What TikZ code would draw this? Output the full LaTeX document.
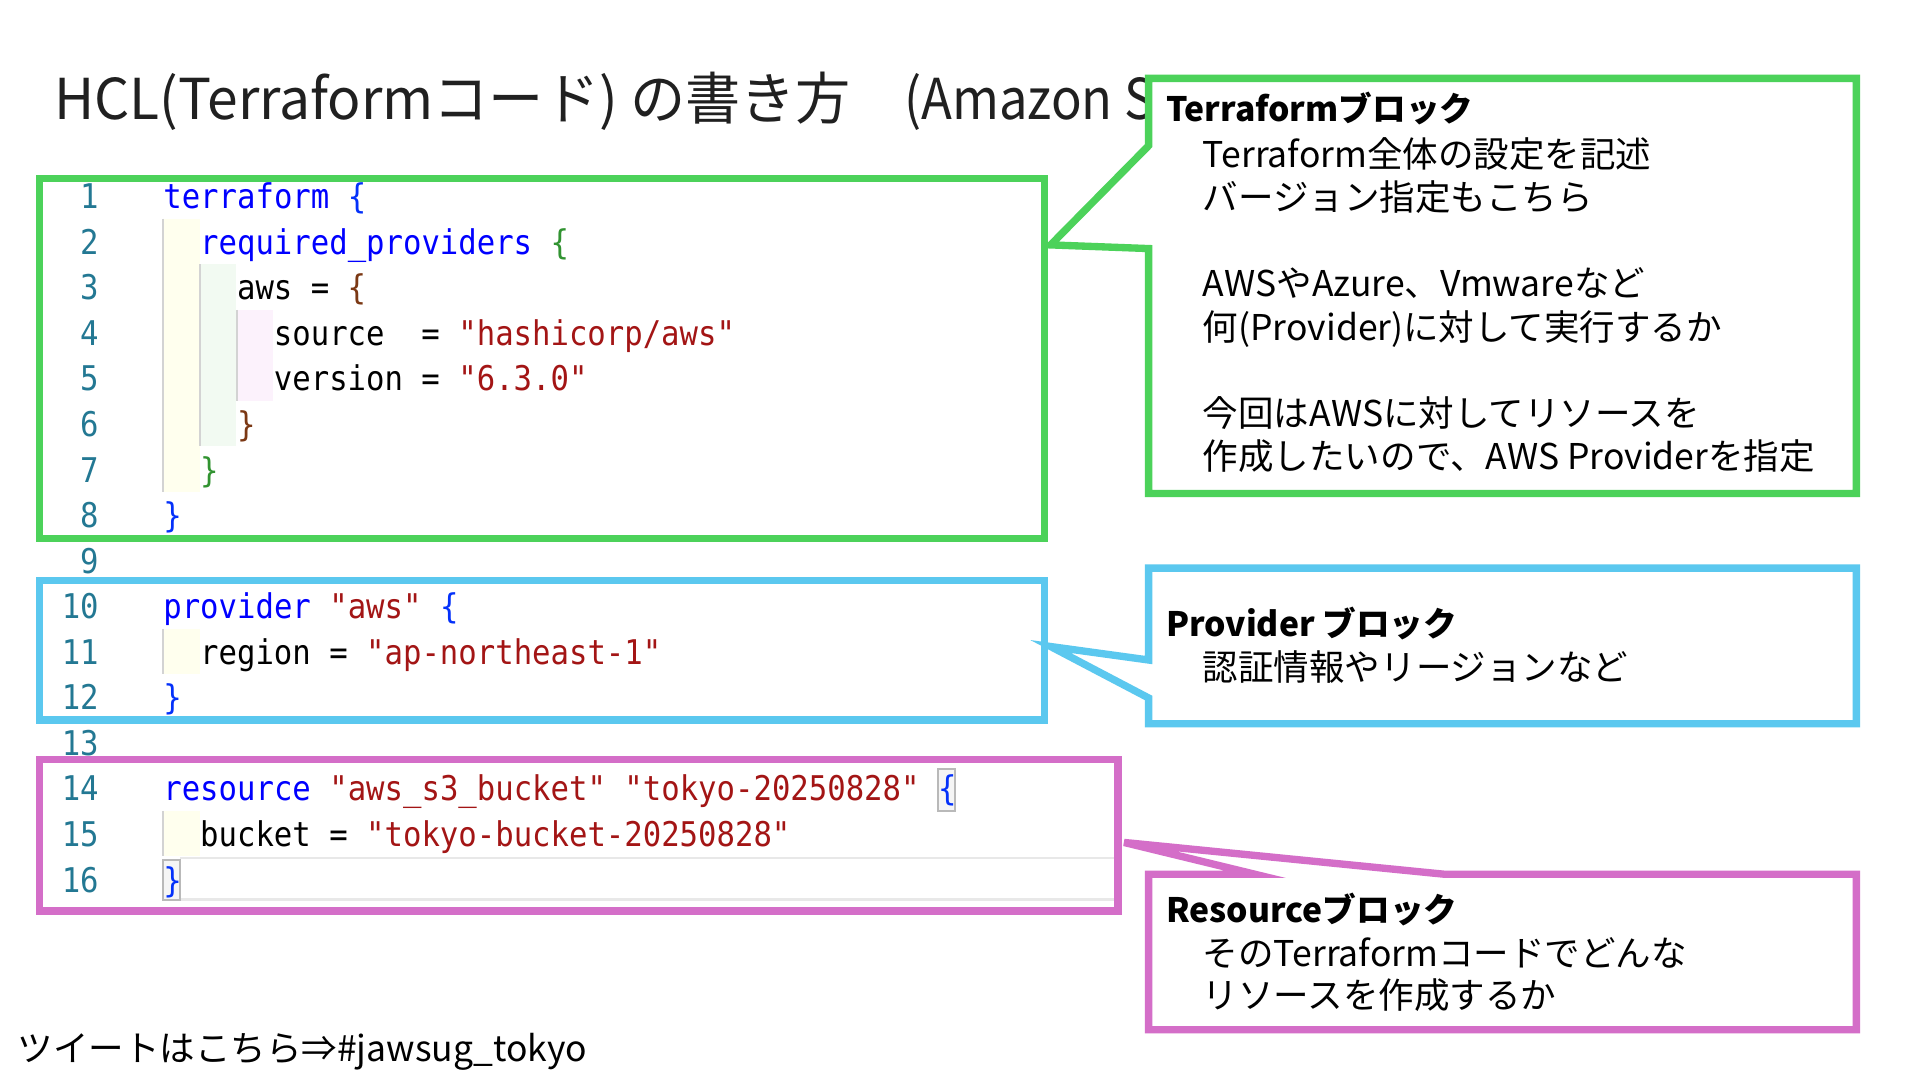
\documentclass[tikz,border=0pt]{standalone}
\usepackage{fontspec}
\newfontfamily\jp{Noto Sans CJK JP}
\newfontfamily\jptitle[FakeStretch=0.98]{Noto Sans CJK JP}
\newfontfamily\jptitleb[FakeStretch=0.9]{Noto Sans CJK JP}
\newfontfamily\codefont[FakeStretch=0.9]{DejaVu Sans Mono}
\definecolor{cgreen}{HTML}{4CD25A}
\definecolor{cblue}{HTML}{5BC8EF}
\definecolor{cmag}{HTML}{D46EC8}
\definecolor{kw}{HTML}{0000FF}
\definecolor{strc}{HTML}{A31515}
\definecolor{bra}{HTML}{0431FA}
\definecolor{brb}{HTML}{319331}
\definecolor{brc}{HTML}{7B3814}
\definecolor{lnc}{HTML}{237893}
\definecolor{guidec}{HTML}{D3D3D3}
\definecolor{bgy}{HTML}{FFFFEE}
\definecolor{bgg}{HTML}{F2FAF2}
\definecolor{bgp}{HTML}{FCF2FC}
\definecolor{titlec}{HTML}{202020}
\tikzset{
  codeline/.style={anchor=base west, inner sep=0pt, font=\codefont\fontsize{13.9}{16}\selectfont},
  lnum/.style={anchor=base east, inner sep=0pt, text=lnc, font=\codefont\fontsize{13.9}{16}\selectfont},
  frame/.style={line width=3pt},
  guide/.style={draw=guidec, line width=0.8pt},
  callout/.style={line width=3pt, fill=white},
  headtxt/.style={anchor=base west, inner sep=0pt, font=\jp\bfseries\fontsize{13.75}{16}\selectfont},
  bodytxt/.style={anchor=base west, inner sep=0pt, font=\jp\fontsize{14.5}{17}\selectfont},
  titletxt/.style={anchor=base west, inner sep=0pt, text=titlec},
}
\newcommand{\kwd}[1]{\textcolor{kw}{#1}}
\newcommand{\strg}[1]{\textcolor{strc}{#1}}
\begin{document}
\begin{tikzpicture}[x=0.5pt,y=-0.5pt]
\useasboundingbox (0,0) rectangle (1568,882);
\fill[white] (0,0) rectangle (1568,882);
% indent backgrounds
\fill[bgy] (133,178.6) rectangle (163,401.8);
\fill[bgg] (163,215.8) rectangle (193,364.6);
\fill[bgp] (193,253) rectangle (223,327.4);
\fill[bgy] (133,513.4) rectangle (163,550.6);
\fill[bgy] (133,662.2) rectangle (163,699.4);
\draw[guide] (133.5,178.6) -- (133.5,401.8);
\draw[guide] (163.5,215.8) -- (163.5,364.6);
\draw[guide] (193.5,253) -- (193.5,327.4);
\draw[guide] (133.5,513.4) -- (133.5,550.6);
\draw[guide] (133.5,662.2) -- (133.5,699.4);
% current line highlight
\draw[gray!18, line width=1pt] (147,700.5) -- (911,700.5);
\draw[gray!18, line width=1pt] (147,734.5) -- (911,734.5);
% bracket match boxes
\draw[draw=gray!55, fill=gray!8, line width=0.8pt] (766,628) rectangle (780,662);
\draw[draw=gray!55, fill=gray!8, line width=0.8pt] (133,702) rectangle (147,735);
% line numbers
\foreach \n in {1,...,16} {
  \node[lnum] (ln\n) at (81,{170.5+(\n-1)*37.2}) {\n};
}
% code
\node[codeline] (c1) at (133,170.5) {\kwd{terraform}~\textcolor{bra}{\{}};
\node[codeline] (c2) at (163.1,207.7) {\kwd{required\_providers}~\textcolor{brb}{\{}};
\node[codeline] (c3) at (193.2,244.9) {aws~=~\textcolor{brc}{\{}};
\node[codeline] (c4) at (223.3,282.1) {source~~=~\strg{"hashicorp/aws"}};
\node[codeline] (c5) at (223.3,319.3) {version~=~\strg{"6.3.0"}};
\node[codeline] (c6) at (193.2,356.5) {\textcolor{brc}{\}}};
\node[codeline] (c7) at (163.1,393.7) {\textcolor{brb}{\}}};
\node[codeline] (c8) at (133,430.9) {\textcolor{bra}{\}}};
\node[codeline] (c10) at (133,505.3) {\kwd{provider}~\strg{"aws"}~\textcolor{bra}{\{}};
\node[codeline] (c11) at (163.1,542.5) {region~=~\strg{"ap-northeast-1"}};
\node[codeline] (c12) at (133,579.7) {\textcolor{bra}{\}}};
\node[codeline] (c14) at (133,654.1) {\kwd{resource}~\strg{"aws\_s3\_bucket"}~\strg{"tokyo-20250828"}~\textcolor{bra}{\{}};
\node[codeline] (c15) at (163.1,691.3) {bucket~=~\strg{"tokyo-bucket-20250828"}};
\node[codeline] (c16) at (133,728.5) {\textcolor{bra}{\}}};
% code frames
\draw[frame, cgreen] (32,146) rectangle (853,440);
\draw[frame, cblue] (32,474) rectangle (853,588);
\draw[frame, cmag] (32,620) rectangle (913,744);
% title
\node[titletxt, font=\jptitle\fontsize{23}{26}\selectfont] (title) at (44,98) {HCL(Terraformコード) の書き方};
\node[titletxt, font=\jptitleb\fontsize{23}{26}\selectfont] (title2) at (738,98) {(Amazon S};
% callouts
\draw[callout, draw=cgreen] (938,64) -- (1516,64) -- (1516,403) -- (938,403) -- (938,203) -- (858,200) -- (938,119) -- cycle;
\draw[callout, draw=cblue] (938,464) -- (1516,464) -- (1516,591) -- (938,591) -- (938,570) -- (858,528) -- (938,539) -- cycle;
\draw[callout, draw=cmag] (938,714) -- (1025,714) -- (918,688) -- (1180,714) -- (1516,714) -- (1516,841) -- (938,841) -- cycle;
% callout texts
\node[headtxt] (h1) at (952,99.5) {Terraformブロック};
\node[bodytxt] (t11) at (982,136.5) {Terraform全体の設定を記述};
\node[bodytxt] (t12) at (982,171.8) {バージョン指定もこちら};
\node[bodytxt] (t13) at (982,242.4) {AWSやAzure、Vmwareなど};
\node[bodytxt] (t14) at (982,277.7) {何(Provider)に対して実行するか};
\node[bodytxt] (t15) at (982,348.3) {今回はAWSに対してリソースを};
\node[bodytxt] (t16) at (982,383.6) {作成したいので、AWS Providerを指定};
\node[headtxt] (h2) at (952,520) {Provider ブロック};
\node[bodytxt] (t21) at (982,556) {認証情報やリージョンなど};
\node[headtxt] (h3) at (952,753) {Resourceブロック};
\node[bodytxt] (t31) at (982,789.5) {そのTerraformコードでどんな};
\node[bodytxt] (t32) at (982,824) {リソースを作成するか};
% footer
\node[anchor=base west, inner sep=0pt, font=\jp\fontsize{14.5}{17}\selectfont] (foot) at (14,867) {ツイートはこちら⇒\#jawsug\_tokyo};
\end{tikzpicture}
\end{document}
